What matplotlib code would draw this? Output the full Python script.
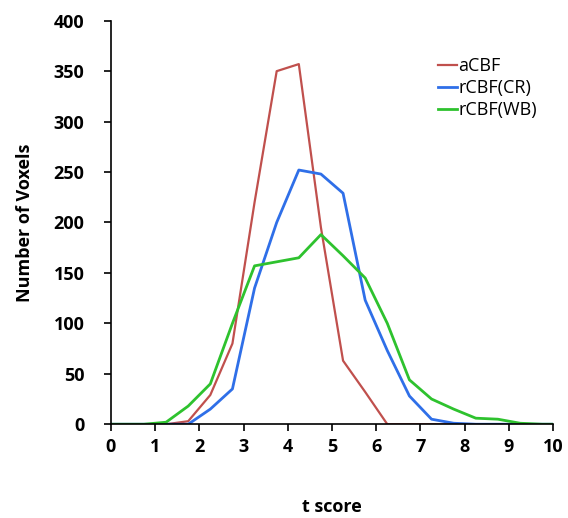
import numpy as np
import matplotlib.pyplot as plt

# t score bins (bin centres) and voxel counts
t_score = [0, 0.25, 0.75, 1.25, 1.75, 2.25, 2.75, 3.25, 3.75, 4.25, 4.75,
           5.25, 5.75, 6.25, 6.75, 7.25, 7.75, 8.25, 8.75, 9.25, 9.75, 10]
acbf = [0, 0, 0, 0, 3, 29, 80, 220, 350, 357, 195,
        63, 32, 0, 0, 0, 0, 0, 0, 0, 0, 0]
rcbf_cr = [0, 0, 0, 0, 0, 15, 35, 135, 200, 252, 248,
           229, 123, 73, 28, 5, 1, 0, 0, 0, 0, 0]
rcbf_wb = [0, 0, 0, 2, 18, 40, 100, 157, 161, 165, 188,
           167, 145, 100, 44, 25, 15, 6, 5, 1, 0, 0]

x_ticks = list(range(0, 11))
y_ticks = list(range(0, 401, 50))

plt.rcParams['font.family'] = ['Open Sans', 'DejaVu Sans']

fig = plt.figure(figsize=(5.68, 5.18), dpi=100)
ax = fig.add_axes([0.195, 0.181, 0.779, 0.779])

ax.plot(t_score, acbf, color='#c0504d', linewidth=1.6, label='aCBF')
ax.plot(t_score, rcbf_cr, color='#2f6fe8', linewidth=2, label='rCBF(CR)')
ax.plot(t_score, rcbf_wb, color='#2ec22e', linewidth=2, label='rCBF(WB)')

ax.set_xlim(0, 10)
ax.set_ylim(0, 400)
ax.set_xticks(x_ticks)
ax.set_yticks(y_ticks)
ax.tick_params(direction='out', length=5, width=1.2, labelsize=13)
ax.tick_params(axis='x', pad=5)
ax.tick_params(axis='y', pad=14)
for lab in ax.get_xticklabels() + ax.get_yticklabels():
    lab.set_fontweight('bold')

for side in ['top', 'right']:
    ax.spines[side].set_visible(False)
for side in ['left', 'bottom']:
    ax.spines[side].set_linewidth(1.2)

ax.set_xlabel('t score', fontsize=13, fontweight='bold', labelpad=30)
ax.set_ylabel('Number of Voxels', fontsize=13, fontweight='bold', labelpad=14)

ax.legend(loc='upper right', bbox_to_anchor=(1.0, 0.95), frameon=False,
          fontsize=13, handlelength=1.0, handletextpad=0.1, labelspacing=0.22)

plt.savefig('out.png', dpi=100)
